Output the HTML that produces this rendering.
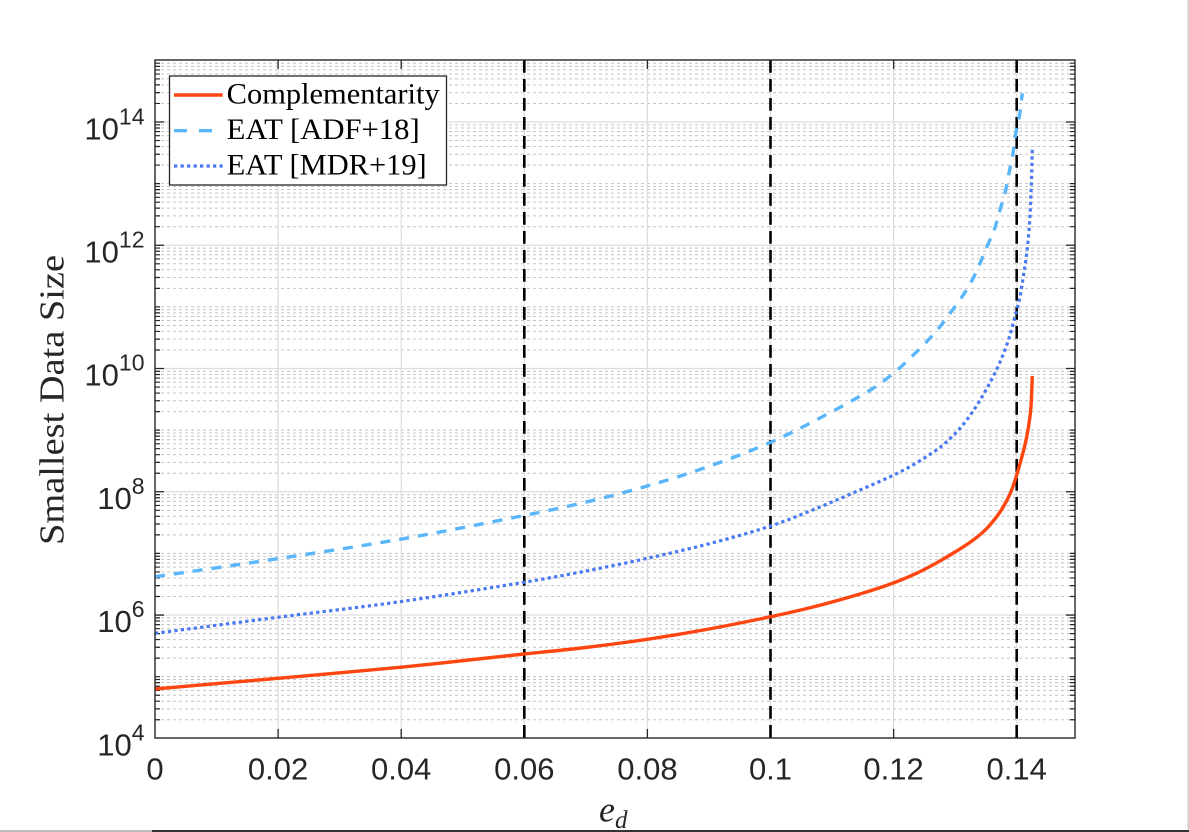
<!DOCTYPE html>
<html><head><meta charset="utf-8"><style>
html,body{margin:0;padding:0;background:#fff;}
svg{display:block;}
</style></head><body>
<svg width="1189" height="832" viewBox="0 0 1189 832" xmlns="http://www.w3.org/2000/svg">
<rect width="1189" height="832" fill="#fff"/>
<defs>
<g id="mg">
<path d="M155,-18.55H1075M155,-29.41H1075M155,-37.10H1075M155,-43.08H1075M155,-47.96H1075M155,-52.08H1075M155,-55.66H1075M155,-58.81H1075" stroke="#c4c4c4" stroke-width="1" stroke-dasharray="3 3" fill="none"/>
<path d="M155,-18.55h5M155,-29.41h5M155,-37.10h5M155,-43.08h5M155,-47.96h5M155,-52.08h5M155,-55.66h5M155,-58.81h5M1075,-18.55h-5M1075,-29.41h-5M1075,-37.10h-5M1075,-43.08h-5M1075,-47.96h-5M1075,-52.08h-5M1075,-55.66h-5M1075,-58.81h-5" stroke="#262626" stroke-width="1.2" fill="none"/>
</g>
</defs>
<use href="#mg" x="0" y="738.3"/>
<use href="#mg" x="0" y="676.67"/>
<use href="#mg" x="0" y="615.04"/>
<use href="#mg" x="0" y="553.41"/>
<use href="#mg" x="0" y="491.78"/>
<use href="#mg" x="0" y="430.15"/>
<use href="#mg" x="0" y="368.52"/>
<use href="#mg" x="0" y="306.89"/>
<use href="#mg" x="0" y="245.26"/>
<use href="#mg" x="0" y="183.63"/>
<use href="#mg" x="0" y="122.0"/>
<path d="M155,676.67H1075M155,553.41H1075M155,430.15H1075M155,306.89H1075M155,183.63H1075" stroke="#c4c4c4" stroke-width="1" stroke-dasharray="3 3" fill="none"/>
<path d="M155,676.67h5M155,553.41h5M155,430.15h5M155,306.89h5M155,183.63h5M1075,676.67h-5M1075,553.41h-5M1075,430.15h-5M1075,306.89h-5M1075,183.63h-5" stroke="#262626" stroke-width="1.2" fill="none"/>
<path d="M155,615.04H1075M155,491.78H1075M155,368.52H1075M155,245.26H1075M155,122.0H1075" stroke="#dcdcdc" stroke-width="1.2" fill="none"/>
<path d="M278.1,60V738M401.2,60V738M524.3,60V738M647.4,60V738M770.5,60V738M893.6,60V738M1016.7,60V738" stroke="#dcdcdc" stroke-width="1.2" fill="none"/>
<path d="M155,615.04h9M155,491.78h9M155,368.52h9M155,245.26h9M155,122.0h9M1075,615.04h-9M1075,491.78h-9M1075,368.52h-9M1075,245.26h-9M1075,122.0h-9" stroke="#262626" stroke-width="1.3" fill="none"/>
<path d="M278.1,738v-9M401.2,738v-9M524.3,738v-9M647.4,738v-9M770.5,738v-9M893.6,738v-9M1016.7,738v-9M278.1,60v9M401.2,60v9M524.3,60v9M647.4,60v9M770.5,60v9M893.6,60v9M1016.7,60v9" stroke="#262626" stroke-width="1.3" fill="none"/>
<path d="M524.3,60V738M770.5,60V738M1016.7,60V738" stroke="#000" stroke-width="2.6" stroke-dasharray="12.7 6.3" fill="none"/>
<path id="sRed" d="M155,689 L277.7,678.3 L400,667.3 L524,654 L585.6,647.5 L647.3,639.3 L709,629 L770.7,616.7 L815,606.5 L860,594 L893.3,583 L916.7,573.2 L936.7,562.8 L956.7,551 L973.3,540 L986.7,528.5 L1000,512 L1010,494 L1016.7,475 L1021.7,457.5 L1026.7,437 L1030.7,410 L1032.3,376" stroke="#ff4510" stroke-width="3.4" fill="none" stroke-linejoin="round"/>
<path id="sDash" d="M155,576.7 L277.7,558.7 L400,539.3 L510,518.3 L580,503.5 L647.3,486 L710,466 L770.7,442.3 L818,419 L866.7,392.3 L885,380 L899.3,368.3 L913.3,355 L926.7,341.7 L940,326.7 L950,313.3 L961.7,297.3 L971.7,281 L980,263.3 L987.7,245 L994.7,228.3 L1000,210 L1005.3,191.7 L1009,173 L1012.7,155 L1015.3,136 L1019.3,116.7 L1022.3,93.3" stroke="#5ab6fb" stroke-width="3.4" fill="none" stroke-dasharray="10 9" stroke-linejoin="round"/>
<path id="sDot" d="M155,633.3 L277.7,617.3 L400,601.7 L524,582.3 L586,571 L647.3,558.3 L710,543.5 L770.7,526 L815,509 L860,490 L886.7,478.3 L910,466.7 L933.3,452.2 L943.3,444.7 L953.3,435.5 L961.7,426.3 L970,415.5 L978.3,403 L986.7,388.7 L993.3,376.2 L1000,362.1 L1008.3,340.5 L1014,320 L1019.3,300 L1023.3,276.7 L1026.7,253.3 L1029.3,226.7 L1030.7,200 L1031.7,173.3 L1032.3,149.3" stroke="#4a7af2" stroke-width="3.2" fill="none" stroke-dasharray="3.3 3.2" stroke-linejoin="round"/>
<rect x="155" y="60" width="920" height="678" fill="none" stroke="#262626" stroke-width="1.4"/>
<rect x="169.5" y="76" width="277" height="109" fill="#fff" stroke="#262626" stroke-width="1.3"/>
<line x1="174" y1="95" x2="222.7" y2="95" stroke="#ff4510" stroke-width="3.4"/>
<line x1="174" y1="130.7" x2="222.7" y2="130.7" stroke="#5ab6fb" stroke-width="3.4" stroke-dasharray="13 12"/>
<line x1="174" y1="166" x2="222.7" y2="166" stroke="#4a7af2" stroke-width="3.2" stroke-dasharray="3.3 3.2"/>
<g font-family="'Liberation Serif', serif" font-size="30" fill="#000">
<text x="226.7" y="103.5" textLength="213" lengthAdjust="spacingAndGlyphs">Complementarity</text>
<text x="226.7" y="139" textLength="193" lengthAdjust="spacingAndGlyphs">EAT [ADF+18]</text>
<text x="226.7" y="174.5" textLength="200" lengthAdjust="spacingAndGlyphs">EAT [MDR+19]</text>
</g>
<g font-family="'Liberation Sans', sans-serif" font-size="31" fill="#262626" text-anchor="end">
<text x="144.5" y="755.5">10<tspan font-size="23" dy="-15">4</tspan></text>
<text x="144.5" y="632.2">10<tspan font-size="23" dy="-15">6</tspan></text>
<text x="144.5" y="509">10<tspan font-size="23" dy="-15">8</tspan></text>
<text x="144.5" y="385.7">10<tspan font-size="23" dy="-15">10</tspan></text>
<text x="144.5" y="262.5">10<tspan font-size="23" dy="-15">12</tspan></text>
<text x="144.5" y="139.3">10<tspan font-size="23" dy="-15">14</tspan></text>
</g>
<g font-family="'Liberation Sans', sans-serif" font-size="31" fill="#262626" text-anchor="middle">
<text x="155" y="779.5">0</text>
<text x="278.1" y="779.5">0.02</text>
<text x="401.2" y="779.5">0.04</text>
<text x="524.3" y="779.5">0.06</text>
<text x="647.4" y="779.5">0.08</text>
<text x="770.5" y="779.5">0.1</text>
<text x="893.6" y="779.5">0.12</text>
<text x="1016.7" y="779.5">0.14</text>
</g>
<text transform="translate(63.5,400) rotate(-90)" text-anchor="middle" font-family="'Liberation Serif', serif" font-size="35" fill="#262626" textLength="290" lengthAdjust="spacingAndGlyphs">Smallest Data Size</text>
<text x="599" y="821.7" font-family="'Liberation Serif', serif" font-style="italic" font-size="36" fill="#262626">e<tspan font-size="25" dy="6.5">d</tspan></text>
<rect x="0" y="830" width="152" height="2" fill="#bdbdbd"/>
<rect x="152" y="830" width="1037" height="2" fill="#333"/>
<rect x="1187.5" y="0" width="1.5" height="830" fill="#cfcfcf"/>
</svg>
<script>
(function(){
  function smooth(id){
    var el=document.getElementById(id); if(!el) return;
    var d=el.getAttribute('d');
    var nums=d.match(/-?\d+(\.\d+)?/g).map(Number);
    var P=[]; for(var i=0;i<nums.length;i+=2){P.push([nums[i],nums[i+1]]);}
    var n=P.length; if(n<3) return;
    var t=[0]; for(var i=1;i<n;i++){var dx=P[i][0]-P[i-1][0],dy=P[i][1]-P[i-1][1];t.push(t[i-1]+Math.sqrt(dx*dx+dy*dy));}
    var T=[];
    for(var i=0;i<n;i++){
      var a=Math.max(i-1,0),b=Math.min(i+1,n-1),dt=t[b]-t[a];
      T.push([(P[b][0]-P[a][0])/dt,(P[b][1]-P[a][1])/dt]);
    }
    var s='M'+P[0][0].toFixed(2)+','+P[0][1].toFixed(2);
    for(var i=0;i<n-1;i++){
      var h=(t[i+1]-t[i])/3;
      var c1=[P[i][0]+T[i][0]*h,P[i][1]+T[i][1]*h];
      var c2=[P[i+1][0]-T[i+1][0]*h,P[i+1][1]-T[i+1][1]*h];
      s+=' C'+c1[0].toFixed(2)+','+c1[1].toFixed(2)+' '+c2[0].toFixed(2)+','+c2[1].toFixed(2)+' '+P[i+1][0].toFixed(2)+','+P[i+1][1].toFixed(2);
    }
    el.setAttribute('d',s);
  }
  smooth('sRed');smooth('sDash');smooth('sDot');
})();
</script>
</body></html>
